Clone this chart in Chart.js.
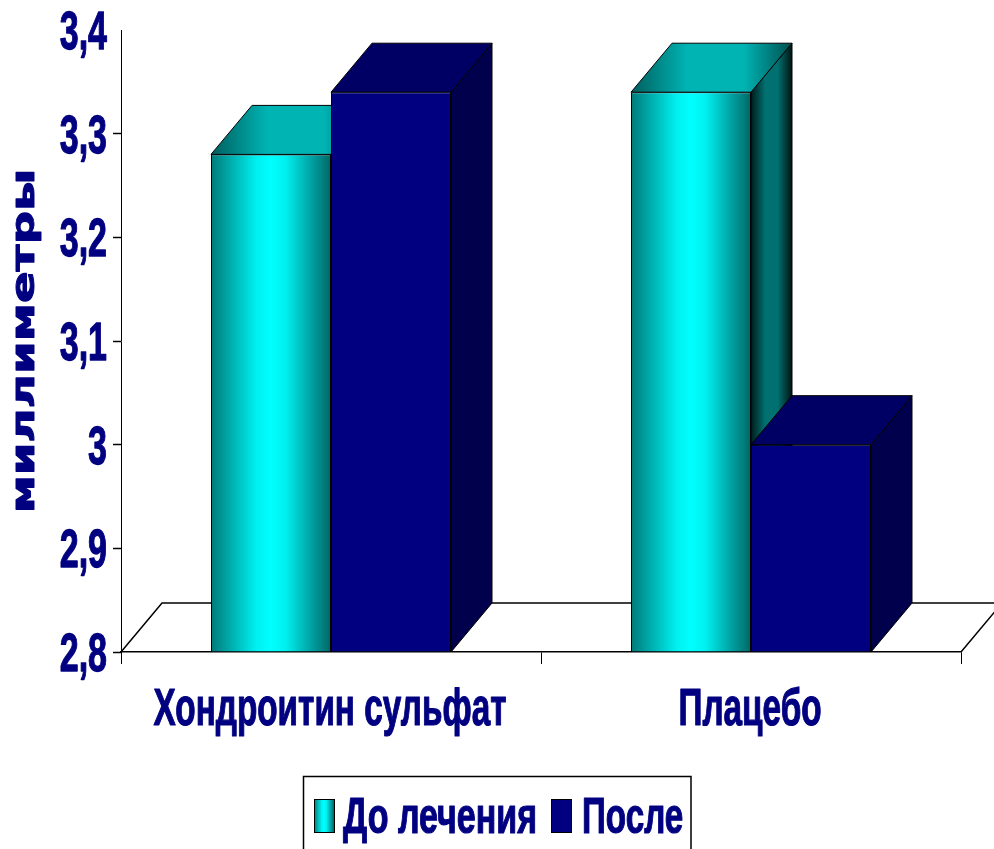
<!DOCTYPE html>
<html>
<head>
<meta charset="utf-8">
<script src="https://cdn.jsdelivr.net/npm/chart.js@4"></script>
<style>
    html, body { margin: 0; background: #fff; overflow: hidden; }
    canvas { display: block; }
</style>
</head>
<body>
<canvas id="chart" width="994" height="849"></canvas>
<script>
const categories = ['Хондроитин сульфат', 'Плацебо'];
const seriesNames = ['До лечения', 'После'];
const beforeValues = [3.28, 3.34];
const afterValues = [3.34, 3.0];
const yTickLabels = ['2,8', '2,9', '3', '3,1', '3,2', '3,3', '3,4'];
const yTitle = 'миллиметры';
const yMin = 2.8;
const yMax = 3.4;

const NAVY = '#000080';
const NARROW = '"Liberation Sans Narrow", "Liberation Sans", sans-serif';
const GROUP_PCT = 240 / 420;
// how far the 3d faces go back
const DEPTH_X = 41;
const DEPTH_Y = 49;

// the original text is stretched and heavy, so all of it goes through here
function stretchedText(ctx, text, x, y, font, sx, sy, align, angle) {
    ctx.save();
    ctx.translate(x, y);
    if (angle) ctx.rotate(angle);
    ctx.scale(sx, sy);
    ctx.font = font;
    ctx.textAlign = align;
    ctx.textBaseline = 'alphabetic';
    ctx.fillStyle = NAVY;
    ctx.strokeStyle = NAVY;
    ctx.lineWidth = 1;
    ctx.lineJoin = 'round';
    ctx.fillText(text, 0, 0);
    ctx.strokeText(text, 0, 0);
    ctx.restore();
}

function hGradient(ctx, x0, x1, stops) {
    const g = ctx.createLinearGradient(x0, 0, x1, 0);
    stops.forEach(s => g.addColorStop(s[0], s[1]));
    return g;
}

const FRONT_STOPS = [[0, '#007a7a'], [0.38, '#00f0f0'], [0.5, '#00ffff'], [0.62, '#00f0f0'], [1, '#006666']];
const TOP_STOPS = [[0, '#005e5e'], [0.35, '#00b4b4'], [0.7, '#00b4b4'], [1, '#004f4f']];
const SIDE_STOPS = [[0, '#001c1c'], [0.35, '#007070'], [0.65, '#007070'], [1, '#001414']];

function polygon(ctx, pts, fill) {
    ctx.beginPath();
    pts.forEach((p, i) => i ? ctx.lineTo(p[0], p[1]) : ctx.moveTo(p[0], p[1]));
    ctx.closePath();
    ctx.fillStyle = fill;
    ctx.fill();
    ctx.lineWidth = 1;
    ctx.strokeStyle = '#000';
    ctx.stroke();
}

// front colour of the first series, has to know where its bar is
function frontFill(c) {
    if (c.type !== 'data') return NAVY;
    const xs = c.chart.scales.x;
    const half = xs.width / categories.length * GROUP_PCT / 2;
    const mid = xs.getPixelForValue(c.dataIndex);
    // first pass comes before layout, scale has no size yet
    if (!isFinite(half) || !isFinite(mid)) return NAVY;
    return hGradient(c.chart.ctx, mid - half, mid, FRONT_STOPS);
}

function drawFloor(chart) {
    const ctx = chart.ctx;
    const a = chart.chartArea;
    ctx.save();
    ctx.beginPath();
    ctx.moveTo(a.left, a.bottom);
    ctx.lineTo(a.left + DEPTH_X, a.bottom - DEPTH_Y);
    ctx.lineTo(a.right + DEPTH_X, a.bottom - DEPTH_Y);
    ctx.lineTo(a.right, a.bottom);
    ctx.lineWidth = 1.5;
    ctx.strokeStyle = '#000';
    ctx.stroke();
    ctx.restore();
}

function drawFaces(chart, meta, first) {
    const ctx = chart.ctx;
    const base = chart.scales.y.bottom;
    meta.data.forEach(bar => {
        const half = bar.width / 2;
        const l = bar.x - half;
        const r = bar.x + half;
        const t = bar.y;
        ctx.save();
        polygon(ctx, [[r, t], [r + DEPTH_X, t - DEPTH_Y], [r + DEPTH_X, base - DEPTH_Y], [r, base]],
            first ? hGradient(ctx, r, r + DEPTH_X, SIDE_STOPS) : '#00004c');
        polygon(ctx, [[l, t], [l + DEPTH_X, t - DEPTH_Y], [r + DEPTH_X, t - DEPTH_Y], [r, t]],
            first ? hGradient(ctx, l, r + DEPTH_X, TOP_STOPS) : '#000064');
        ctx.restore();
    });
}

// the library paints the last dataset first, here the second series has to cover the first,
// so take over the loop: faces of a series, then its fronts through its own controller
const bars3dPlugin = {
    id: 'bars3dPlugin',
    beforeDatasetsDraw(chart) {
        drawFloor(chart);
        chart.data.datasets.forEach((ds, i) => {
            const meta = chart.getDatasetMeta(i);
            drawFaces(chart, meta, i === 0);
            meta.controller.draw();
        });
        return false;
    }
};

const textPlugin = {
    id: 'textPlugin',
    afterDraw(chart) {
        const ctx = chart.ctx;
        const xs = chart.scales.x;
        const ys = chart.scales.y;

        ys.ticks.forEach((tick, i) => {
            stretchedText(ctx, tick.label, 107, ys.getPixelForTick(i) + 19, 'bold 42px ' + NARROW, 0.81, 1.26, 'right');
        });
        xs.ticks.forEach((tick, i) => {
            stretchedText(ctx, tick.label, xs.getPixelForTick(i) - 1, 725, 'bold 44px ' + NARROW, 0.757, 1.17, 'center');
        });
        stretchedText(ctx, yTitle, 33.5, 341, 'bold 32px "DejaVu Sans", sans-serif', 1.46, 1, 'center', -Math.PI / 2);

        // legend box runs off the bottom of the picture
        ctx.save();
        ctx.strokeStyle = '#000';
        ctx.lineWidth = 1.5;
        ctx.beginPath();
        ctx.moveTo(303.5, 849);
        ctx.lineTo(303.5, 776.5);
        ctx.lineTo(691, 776.5);
        ctx.lineTo(691, 849);
        ctx.stroke();
        ctx.lineWidth = 1;
        ctx.fillStyle = hGradient(ctx, 314, 334, FRONT_STOPS);
        ctx.fillRect(314.5, 799.5, 20, 33);
        ctx.strokeRect(314.5, 799.5, 20, 33);
        ctx.fillStyle = NAVY;
        ctx.fillRect(551.5, 799.5, 20, 33);
        ctx.strokeRect(551.5, 799.5, 20, 33);
        ctx.restore();
        stretchedText(ctx, chart.data.datasets[0].label, 343, 833, 'bold 42px ' + NARROW, 0.81, 1.17, 'left');
        stretchedText(ctx, chart.data.datasets[1].label, 582, 833, 'bold 42px ' + NARROW, 0.79, 1.17, 'left');
    }
};

new Chart(document.getElementById('chart'), {
    type: 'bar',
    data: {
        labels: categories,
        datasets: [
            { label: seriesNames[0], data: beforeValues, base: yMin, backgroundColor: frontFill, borderColor: '#000', borderWidth: 1 },
            { label: seriesNames[1], data: afterValues, base: yMin, backgroundColor: NAVY, borderColor: '#000', borderWidth: 1 }
        ]
    },
    options: {
        responsive: false,
        animation: false,
        layout: { padding: { left: 121, right: 33, top: 30, bottom: 197 } },
        plugins: { legend: { display: false }, tooltip: { enabled: false } },
        datasets: { bar: { barPercentage: 1, categoryPercentage: GROUP_PCT } },
        scales: {
            x: {
                ticks: { display: false },
                afterFit(scale) { scale.height = 0; },
                grid: { drawOnChartArea: false, tickLength: 12, tickColor: '#000', offset: true },
                border: { color: '#000', width: 1.5 }
            },
            y: {
                min: yMin,
                max: yMax,
                ticks: {
                    display: false,
                    stepSize: 0.1,
                    callback: (v, i) => yTickLabels[i]
                },
                afterFit(scale) { scale.width = 0; },
                grid: {
                    drawOnChartArea: false,
                    tickLength: 8,
                    tickWidth: 1.5,
                    tickColor: c => (c.index === yTickLabels.length - 1 ? 'transparent' : '#000')
                },
                border: { color: '#000', width: 1 }
            }
        }
    },
    plugins: [bars3dPlugin, textPlugin]
});
</script>
</body>
</html>
